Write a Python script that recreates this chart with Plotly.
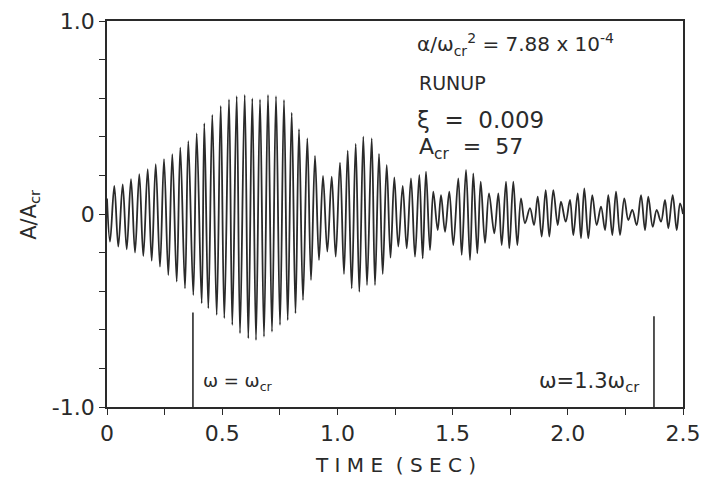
import plotly.graph_objects as go

# Local maxima of the response (time in s, A/Acr)
peak_t = [0.0317, 0.0681, 0.1042, 0.1402, 0.1766, 0.2114, 0.2474, 0.2834, 0.3181, 0.3529, 0.3893,
          0.4223, 0.4570, 0.4935, 0.5295, 0.5629, 0.5977, 0.6306, 0.6641, 0.6988, 0.7335, 0.7682, 0.8016, 0.8333,
          0.8694, 0.9028, 0.9375, 0.9753, 1.0113, 1.0447, 1.0794, 1.1124, 1.1489, 1.1806, 1.2140, 1.2470,
          1.2834, 1.3194, 1.3555, 1.3845, 1.4162, 1.4497, 1.4857, 1.5247, 1.5582, 1.5898, 1.6220, 1.6580,
          1.6984, 1.7318, 1.7635, 1.7969, 1.8359, 1.8694, 1.9041, 1.9371, 1.9705, 2.0095, 2.0430, 2.0716,
          2.1063, 2.1441, 2.1758, 2.2092, 2.2452, 2.2799, 2.3177, 2.3494, 2.3858, 2.4219, 2.4553, 2.4870]
peak_v = [0.145, 0.154, 0.180, 0.206, 0.232, 0.258, 0.284, 0.310, 0.344, 0.378, 0.418,
          0.470, 0.513, 0.560, 0.594, 0.611, 0.617, 0.599, 0.594, 0.617, 0.611, 0.591, 0.525, 0.439,
          0.392, 0.301, 0.197, 0.193, 0.266, 0.328, 0.363, 0.401, 0.392, 0.311, 0.254, 0.190,
          0.145, 0.185, 0.202, 0.219, 0.116, 0.098, 0.116, 0.185, 0.228, 0.211, 0.167, 0.107,
          0.107, 0.167, 0.167, 0.081, 0.030, 0.090, 0.124, 0.124, 0.064, 0.073, 0.107, 0.133,
          0.098, 0.038, 0.098, 0.116, 0.081, 0.021, 0.098, 0.090, 0.021, 0.073, 0.098, 0.055]

# Local minima of the response
trough_t = [0.0130, 0.0490, 0.0855, 0.1215, 0.1576, 0.1940, 0.2300, 0.2661, 0.3025, 0.3385, 0.3746, 0.4110,
            0.4397, 0.4761, 0.5091, 0.5438, 0.5773, 0.6133, 0.6467, 0.6814, 0.7161, 0.7509, 0.7843, 0.8181,
            0.8507, 0.8854, 0.9201, 0.9562, 0.9926, 1.0286, 1.0621, 1.0951, 1.1285, 1.1632, 1.1966, 1.2305,
            1.2643, 1.3008, 1.3368, 1.3702, 1.4019, 1.4353, 1.4670, 1.5030, 1.5395, 1.5755, 1.6072, 1.6406,
            1.6810, 1.7131, 1.7461, 1.7808, 1.8142, 1.8533, 1.8867, 1.9197, 1.9562, 1.9909, 2.0239, 2.0573,
            2.0890, 2.1254, 2.1615, 2.1932, 2.2266, 2.2626, 2.2990, 2.3351, 2.3685, 2.4045, 2.4362, 2.4727]
trough_v = [-0.143, -0.169, -0.183, -0.200, -0.218, -0.242, -0.273, -0.316, -0.350, -0.385, -0.420, -0.463,
            -0.489, -0.523, -0.540, -0.575, -0.618, -0.644, -0.653, -0.636, -0.610, -0.575, -0.550, -0.515,
            -0.446, -0.342, -0.238, -0.195, -0.221, -0.311, -0.385, -0.403, -0.368, -0.368, -0.311, -0.226,
            -0.169, -0.178, -0.221, -0.230, -0.187, -0.083, -0.092, -0.161, -0.212, -0.238, -0.204, -0.150,
            -0.100, -0.161, -0.178, -0.161, -0.048, -0.057, -0.117, -0.117, -0.057, -0.040, -0.109, -0.125,
            -0.126, -0.057, -0.083, -0.109, -0.109, -0.031, -0.057, -0.083, -0.066, -0.040, -0.074, -0.083]

# End points of the trace
start_point = (0.0, 0.08)
end_point = (2.5, 0.0)

# Frequency marker lines (time, top of line)
marker_t = [0.373, 2.374]
marker_top = [-0.51, -0.53]

x_major = [0, 0.5, 1.0, 1.5, 2.0, 2.5]
x_labels = ["0", "0.5", "1.0", "1.5", "2.0", "2.5"]
x_minor = [0.25, 0.75, 1.25, 1.75, 2.25]
y_major = [-1.0, 0, 1.0]
y_labels = ["-1.0", "0", "1.0"]
y_minor = [-0.8, -0.6, -0.4, -0.2, 0.2, 0.4, 0.6, 0.8]

pts = sorted(list(zip(peak_t, peak_v)) + list(zip(trough_t, trough_v)))
pts = [start_point] + pts + [end_point]
xs = [p[0] for p in pts]
ys = [p[1] for p in pts]

INK = "#2a2a2a"
FONT = "DejaVu Sans"

fig = go.Figure()
fig.add_trace(go.Scatter(x=xs, y=ys, mode="lines",
                         line=dict(color=INK, width=1.8, shape="spline", smoothing=1.0),
                         hoverinfo="skip", showlegend=False))
for t, top in zip(marker_t, marker_top):
    fig.add_trace(go.Scatter(x=[t, t], y=[top, -1.0], mode="lines",
                             line=dict(color=INK, width=1.6), showlegend=False, hoverinfo="skip"))

axis_common = dict(showline=True, linecolor=INK, linewidth=1.6, mirror=True,
                   ticks="outside", ticklen=6, tickwidth=1.4, tickcolor=INK,
                   showgrid=False, zeroline=False, automargin=False,
                   tickfont=dict(family=FONT, size=22, color=INK))

fig.update_layout(
    width=703, height=491,
    margin=dict(l=107, r=20, t=21, b=84),
    paper_bgcolor="white", plot_bgcolor="white",
    xaxis=dict(range=[0, 2.5], tickmode="array", tickvals=x_major, ticktext=x_labels,
               minor=dict(tickmode="array", tickvals=x_minor, ticks="outside", ticklen=6,
                          tickwidth=1.4, tickcolor=INK, showgrid=False),
               **axis_common),
    yaxis=dict(range=[-1.0, 1.0], tickmode="array", tickvals=y_major, ticktext=y_labels,
               minor=dict(tickmode="array", tickvals=y_minor, ticks="outside", ticklen=6,
                          tickwidth=1.4, tickcolor=INK, showgrid=False),
               **axis_common),
)

ann = []
ann.append(dict(x=1.337, y=0.876, xref="x", yref="y", xanchor="left", yanchor="middle", showarrow=False,
                text="α/ω<sub>cr</sub><sup>2</sup> = 7.88 x 10<sup>-4</sup>",
                font=dict(family=FONT, size=20, color=INK)))
ann.append(dict(x=1.345, y=0.679, xref="x", yref="y", xanchor="left", yanchor="middle", showarrow=False,
                text="RUNUP", font=dict(family=FONT, size=19, color=INK)))
ann.append(dict(x=1.337, y=0.487, xref="x", yref="y", xanchor="left", yanchor="middle", showarrow=False,
                text="ξ  =  0.009", font=dict(family=FONT, size=23, color=INK)))
ann.append(dict(x=1.345, y=0.340, xref="x", yref="y", xanchor="left", yanchor="middle", showarrow=False,
                text="A<sub>cr</sub>  =  57", font=dict(family=FONT, size=22, color=INK)))
ann.append(dict(x=0.41, y=-0.87, xref="x", yref="y", xanchor="left", yanchor="middle", showarrow=False,
                text="ω = ω<sub>cr</sub>", font=dict(family=FONT, size=18, color=INK)))
ann.append(dict(x=1.866, y=-0.87, xref="x", yref="y", xanchor="left", yanchor="middle", showarrow=False,
                text="ω=1.3ω<sub>cr</sub>", font=dict(family=FONT, size=21, color=INK)))
ann.append(dict(x=0.5, y=-0.15, xref="paper", yref="paper", xanchor="center", yanchor="middle", showarrow=False,
                text="T I M E  ( S E C )", font=dict(family=FONT, size=20, color=INK)))
ann.append(dict(x=-0.134, y=0.5, xref="paper", yref="paper", xanchor="center", yanchor="middle", showarrow=False,
                textangle=-90, text="A/A<sub>cr</sub>", font=dict(family=FONT, size=21, color=INK)))
fig.update_layout(annotations=ann)

# remove the default page margin so the 703x491 figure fills the window exactly
fig.write_html("out.html", config={"displayModeBar": False},
               post_script="document.body.style.margin='0';document.body.style.overflow='hidden';")
